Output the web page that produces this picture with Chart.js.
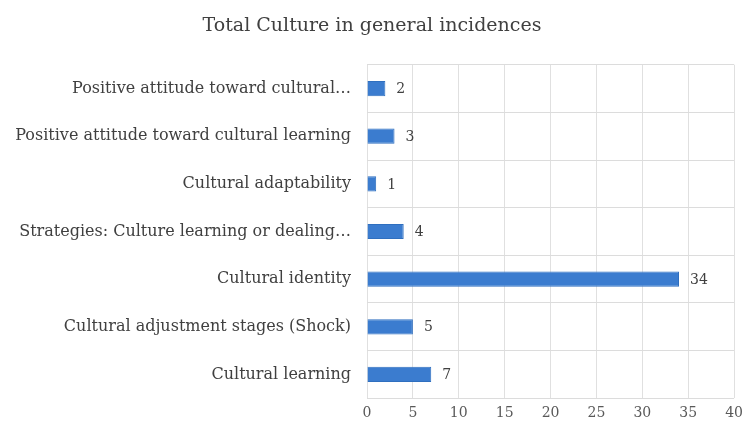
<!DOCTYPE html>
<html>
<head>
<meta charset="utf-8">
<script src="https://cdn.jsdelivr.net/npm/chart.js@4"></script>
<style>
  html, body { margin: 0; padding: 0; background: #fff; }
  #wrap { width: 750px; height: 429px; }
</style>
</head>
<body>
<div id="wrap"><canvas id="cultureChart" width="750" height="429"></canvas></div>
<script>
// categories, top to bottom
const categories = [
  'Positive attitude toward cultural…',
  'Positive attitude toward cultural learning',
  'Cultural adaptability',
  'Strategies: Culture learning or dealing…',
  'Cultural identity',
  'Cultural adjustment stages (Shock)',
  'Cultural learning'
];
const incidences = [2, 3, 1, 4, 34, 5, 7];
const xTicks = [0, 5, 10, 15, 20, 25, 30, 35, 40];

const serif = "'DejaVu Serif', 'Liberation Serif', serif";

// writes the value next to the end of each bar
const valueLabels = {
  id: 'valueLabels',
  afterDatasetsDraw(chart) {
    const ctx = chart.ctx;
    const meta = chart.getDatasetMeta(0);
    ctx.save();
    ctx.font = "14px " + serif;
    ctx.fillStyle = '#404040';
    ctx.textBaseline = 'middle';
    meta.data.forEach((bar, i) => {
      ctx.fillText(String(incidences[i]), bar.x + 11, bar.y + 1);
    });
    ctx.restore();
  }
};

new Chart(document.getElementById('cultureChart'), {
  type: 'bar',
  data: {
    labels: categories,
    datasets: [{
      data: incidences,
      backgroundColor: '#3b7ccf',
      borderColor: '#2f6fbf',
      borderWidth: 1,
      barPercentage: 0.32,
      categoryPercentage: 1
    }]
  },
  options: {
    indexAxis: 'y',
    responsive: false,
    animation: false,
    layout: { padding: { left: 0, right: 6, top: 0, bottom: 0 } },
    plugins: {
      legend: { display: false },
      tooltip: { enabled: false },
      title: {
        display: true,
        text: 'Total Culture in general incidences',
        color: '#404040',
        font: { family: serif, size: 19, weight: 'normal' },
        padding: { top: 15, bottom: 27 }
      }
    },
    scales: {
      x: {
        min: 0,
        max: 40,
        afterBuildTicks(axis) { axis.ticks = xTicks.map(v => ({ value: v })); },
        grid: { color: '#e0e0e0', drawTicks: false },
        border: { display: false },
        ticks: {
          color: '#595959',
          padding: 7,
          font: { family: serif, size: 14 }
        }
      },
      y: {
        afterFit(axis) { axis.width = 367; },
        grid: { color: '#dcdcdc', offset: true, drawTicks: false },
        border: { display: false },
        ticks: {
          color: '#404040',
          padding: 16,
          font: { family: serif, size: 16 }
        }
      }
    }
  },
  plugins: [valueLabels]
});
</script>
</body>
</html>
